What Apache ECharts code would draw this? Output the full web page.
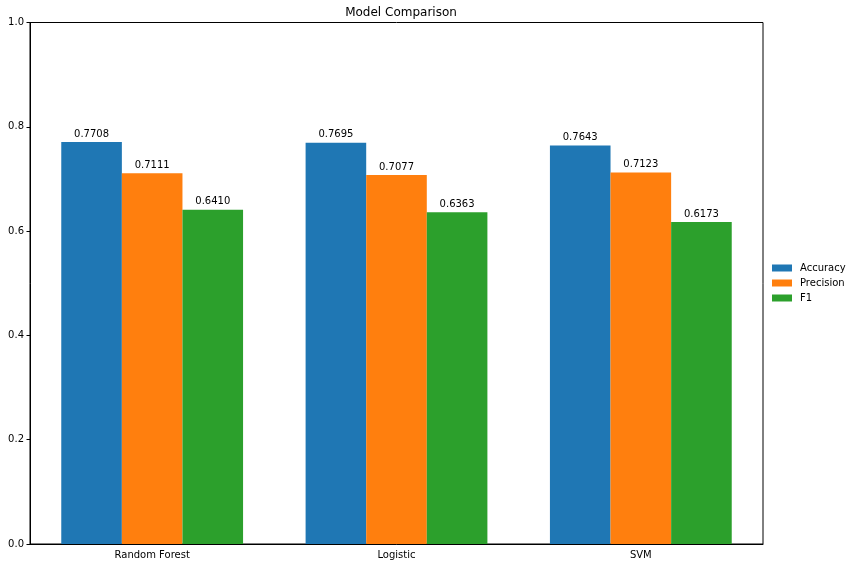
<!DOCTYPE html>
<html><head><meta charset="utf-8">
<script src="https://cdn.jsdelivr.net/npm/echarts@6/dist/echarts.min.js"></script>
<style>html,body{margin:0;padding:0;background:#fff}#c{width:856px;height:568px}</style>
</head><body><div id="c"></div>
<script>
const categories = ['Random Forest', 'Logistic', 'SVM'];
const accuracy = [0.7708, 0.7695, 0.7643];
const precision = [0.7111, 0.7077, 0.7123];
const f1 = [0.6410, 0.6363, 0.6173];
const yTicks = [0, 0.2, 0.4, 0.6, 0.8, 1.0];

const font = 'DejaVu Sans';
const chart = echarts.init(document.getElementById('c'));
function mk(name, data, color) {
  return {
    name, type: 'bar', data, barWidth: 60.6, barGap: '0%',
    itemStyle: { color },
    label: { show: true, position: 'top', distance: 3, color: '#000', fontFamily: font, fontSize: 10,
      formatter: p => p.value.toFixed(4) }
  };
}
chart.setOption({
  animation: false,
  title: { text: 'Model Comparison', left: 396, top: 2, textAlign: 'center',
    textStyle: { fontFamily: font, fontSize: 12, fontWeight: 'normal', color: '#000' } },
  legend: {
    orient: 'vertical', left: 767, top: 258, itemWidth: 20, itemHeight: 7, itemGap: 5,
    icon: 'rect',
    textStyle: { fontFamily: font, fontSize: 10, color: '#000', padding: [0, 0, 0, 3] },
    data: ['Accuracy', 'Precision', 'F1']
  },
  grid: { left: 30, top: 22.5, right: 93, bottom: 24, show: true, borderColor: '#000', borderWidth: 1, backgroundColor: 'transparent' },
  xAxis: {
    type: 'category', data: categories,
    axisLine: { lineStyle: { color: '#000' } },
    axisTick: { alignWithLabel: true, length: 3.5, lineStyle: { color: '#000' } },
    axisLabel: { fontFamily: font, fontSize: 10, color: '#000', margin: 6 }
  },
  yAxis: {
    type: 'value', min: 0, max: 1, interval: 0.2,
    axisLine: { show: true, lineStyle: { color: '#000' } },
    axisTick: { show: true, length: 3.5, lineStyle: { color: '#000' } },
    splitLine: { show: false },
    axisLabel: { fontFamily: font, fontSize: 10, color: '#000', margin: 6, formatter: v => v.toFixed(1) }
  },
  series: [mk('Accuracy', accuracy, '#1f77b4'), mk('Precision', precision, '#ff7f0e'), mk('F1', f1, '#2ca02c')]
});
</script></body></html>
